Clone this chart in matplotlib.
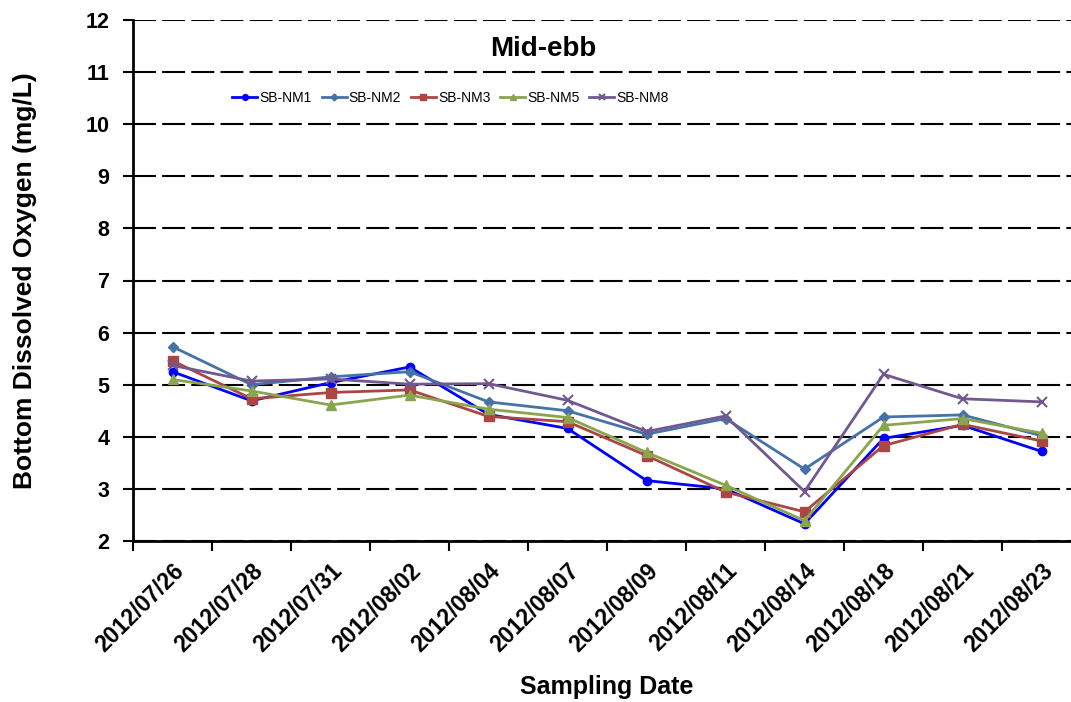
import numpy as np
import matplotlib
matplotlib.use("Agg")
import matplotlib.pyplot as plt

plt.rcParams['font.family'] = ['Liberation Sans', 'DejaVu Sans']
plt.rcParams['font.weight'] = 'bold'

dates = ['2012/07/26', '2012/07/28', '2012/07/31', '2012/08/02', '2012/08/04', '2012/08/07',
         '2012/08/09', '2012/08/11', '2012/08/14', '2012/08/18', '2012/08/21', '2012/08/23']

nm1 = [5.25, 4.69, 5.04, 5.34, 4.43, 4.16, 3.16, 3.00, 2.33, 3.97, 4.22, 3.72]
nm2 = [5.73, 5.00, 5.15, 5.25, 4.67, 4.50, 4.05, 4.35, 3.38, 4.38, 4.42, 4.02]
nm3 = [5.46, 4.73, 4.85, 4.90, 4.39, 4.29, 3.64, 2.94, 2.56, 3.83, 4.24, 3.92]
nm5 = [5.10, 4.88, 4.61, 4.80, 4.53, 4.37, 3.70, 3.07, 2.39, 4.22, 4.35, 4.07]
nm8 = [5.37, 5.07, 5.11, 5.01, 5.02, 4.70, 4.10, 4.40, 2.95, 5.20, 4.73, 4.67]

series = [
    ('SB-NM1', nm1, '#0000FF', 'o', 6),
    ('SB-NM2', nm2, '#4572A7', 'D', 5),
    ('SB-NM3', nm3, '#AA4643', 's', 7),
    ('SB-NM5', nm5, '#89A54E', '^', 7),
    ('SB-NM8', nm8, '#71588F', 'x', 7),
]

fig = plt.figure(figsize=(10.71, 7.02), dpi=100)
ax = fig.add_axes([133 / 1071, 161 / 702, 948 / 1071, 521 / 702])

x = np.arange(len(dates))
for name, vals, c, m, ms in series:
    ax.plot(x, vals, color=c, marker=m, markersize=ms, linewidth=2,
            markeredgewidth=1.5 if m == 'x' else 1, label=name)

ax.set_xlim(-0.5, 11.5)
ax.set_ylim(2, 12)
ax.set_yticks(range(2, 13))
ax.yaxis.grid(True, color='black', linestyle=(0, (11, 3)), linewidth=1.5)
ax.set_axisbelow(True)

ax.set_xticks(x)
ax.set_xticklabels(dates, rotation=45, ha='right', rotation_mode='anchor', fontsize=16.5, fontweight='bold')
ax.set_xticks(np.arange(-0.5, 12, 1), minor=True)
ax.tick_params(axis='x', which='major', length=0, pad=13)
ax.tick_params(axis='x', which='minor', length=7, width=1.5, direction='out')
ax.tick_params(axis='y', length=7, width=1.5, direction='out', labelsize=15.5, pad=10)
for lbl in ax.get_yticklabels():
    lbl.set_fontweight('bold')

for s in ['top', 'right']:
    ax.spines[s].set_visible(False)
for s in ['left', 'bottom']:
    ax.spines[s].set_linewidth(2)

ax.set_ylabel('Bottom Dissolved Oxygen (mg/L)', fontsize=19, fontweight='bold')
ax.set_xlabel('Sampling Date', fontsize=18, fontweight='bold')
ax.yaxis.set_label_coords(-0.101, 0.5)
ax.xaxis.set_label_coords(0.5, -0.258)
ax.text(0.4325, 0.945, 'Mid-ebb', transform=ax.transAxes, fontsize=20, fontweight='bold', ha='center', va='center')

leg = ax.legend(loc='center', bbox_to_anchor=(0.335, 0.85), ncol=5, frameon=False,
                fontsize=10, handlelength=1.8, columnspacing=0.7, handletextpad=0.15, markerscale=0.7)
for t in leg.get_texts():
    t.set_fontweight('normal')

fig.savefig('out.png', dpi=100)
